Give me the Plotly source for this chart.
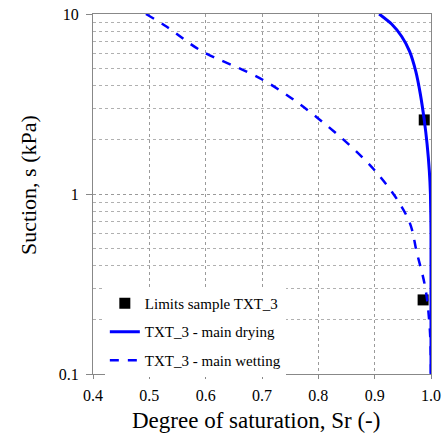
import plotly.graph_objects as go

# wetting curve (dashed)
wet_sr = [0.494, 0.531, 0.59, 0.702, 0.803, 0.904, 0.96, 0.975, 0.99, 0.998, 1.0]
wet_s = [10, 8.5, 6.3, 4.3, 2.58, 1.31, 0.72, 0.47, 0.30, 0.175, 0.1]

# drying curve (solid)
dry_sr = [0.908, 0.93, 0.948, 0.962, 0.973, 0.981, 0.988, 0.993, 0.997, 0.999, 1.0, 1.0]
dry_s = [10, 8.8, 7.5, 6.2, 4.8, 3.6, 2.58, 1.9, 1.35, 1.0, 0.6, 0.1]

# sample limits
lim_sr = [0.988, 0.986]
lim_s = [2.58, 0.258]

y_ticks = [0.1, 1, 10]
y_ticktext = ["0.1", "1", "10"]
y_minor = [m * d for d in (0.1, 1) for m in range(2, 10)]

font = "Liberation Serif"

fig = go.Figure()
fig.add_trace(go.Scatter(
    x=lim_sr, y=lim_s, mode="markers", name="Limits sample TXT_3",
    marker=dict(symbol="square", size=11, color="black"),
    legendgroup="a",
))
fig.add_trace(go.Scatter(
    x=dry_sr, y=dry_s, mode="lines", name="TXT_3 - main drying",
    line=dict(color="#0000ff", width=3, shape="spline", smoothing=0.6),
    legendgroup="b",
))
fig.add_trace(go.Scatter(
    x=wet_sr, y=wet_s, mode="lines", name="TXT_3 - main wetting",
    line=dict(color="#0000ff", width=2.5, dash="dash", shape="spline"),
    legendgroup="c",
))

grid = dict(showgrid=True, gridcolor="#9a9a9a", griddash="dot", gridwidth=1)

fig.update_layout(
    width=447, height=437,
    margin=dict(l=93, r=16, t=14, b=63),
    paper_bgcolor="white", plot_bgcolor="white",
    font=dict(family=font, color="black"),
    showlegend=True,
    legend=dict(
        x=0.035, y=-0.008, xanchor="left", yanchor="bottom",
        bgcolor="white", font=dict(size=15, family=font),
        tracegroupgap=6, itemwidth=30,
    ),
    xaxis=dict(
        range=[0.4, 1.0], dtick=0.1, tick0=0.4, tickformat=".1f",
        tickfont=dict(size=16), automargin=False, ticklabelstandoff=3,
        ticklabeloverflow="allow",
        ticks="outside", ticklen=4, tickcolor="#888888",
        showline=True, linecolor="#888888", linewidth=1, mirror=True,
        zeroline=False, **grid,
    ),
    yaxis=dict(
        type="log", range=[-1, 1],
        tickvals=y_ticks, ticktext=y_ticktext,
        tickfont=dict(size=16), automargin=False, ticklabelstandoff=4,
        ticklabeloverflow="allow",
        ticks="outside", ticklen=6, tickcolor="#888888",
        showline=True, linecolor="#888888", linewidth=1, mirror=True,
        zeroline=False, **grid,
        minor=dict(tickvals=y_minor, showgrid=True, gridcolor="#b0b0b0",
                   griddash="dot", gridwidth=1, ticks=""),
    ),
    annotations=[
        dict(text="Degree of saturation, Sr (-)", xref="paper", yref="paper",
             x=0.482, y=-0.128, xanchor="center", yanchor="middle",
             showarrow=False, font=dict(size=23)),
        dict(text="Suction, s (kPa)", xref="paper", yref="paper",
             x=-0.192, y=0.525, xanchor="center", yanchor="middle",
             textangle=-90, showarrow=False, font=dict(size=22)),
    ],
)

# drop the default 8px page margin so the figure fills the window
fig.write_html("out.html", config={"displayModeBar": False},
               post_script="document.body.style.margin='0';")
